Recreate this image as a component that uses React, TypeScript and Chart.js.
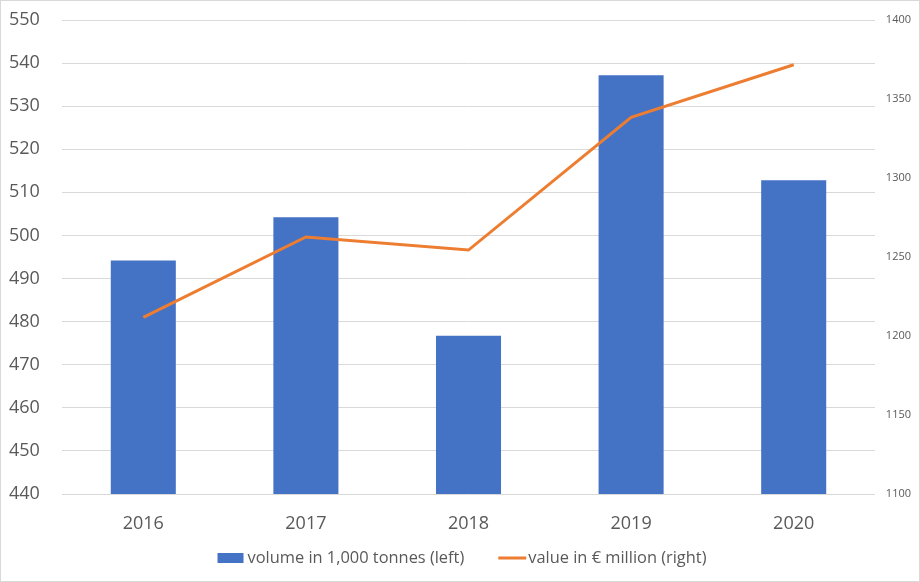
import React, { useEffect, useRef } from "react";
import { Chart, registerables } from "chart.js";

Chart.register(...registerables);

const categories = ["2016", "2017", "2018", "2019", "2020"];
const volumeValues = [494.2, 504.2, 476.7, 537.2, 512.8];
const valueValues = [1211.8, 1262.7, 1254.4, 1338.4, 1371.7];
const volumeLabel = "volume in 1,000 tonnes (left)";
const valueLabel = "value in € million (right)";

const FONT = "'Open Sans', sans-serif";

const legendPlugin = {
  id: "customLegend",
  afterDraw(chart: any) {
    const ctx = chart.ctx as CanvasRenderingContext2D;
    const ds = [...chart.data.datasets].reverse();
    ctx.save();
    ctx.font = `16.4px ${FONT}`;
    ctx.textBaseline = "middle";
    ctx.textAlign = "left";
    const swatch = 26;
    const gap = 4;
    const itemGap = 34;
    const widths = ds.map((d: any) => swatch + gap + ctx.measureText(d.label).width);
    const total = widths.reduce((a: number, b: number) => a + b, 0) + itemGap * (ds.length - 1);
    let x = chart.width / 2 - total / 2 + 2;
    const y = 558;
    ds.forEach((d: any, i: number) => {
      if (d.type === "bar") {
        ctx.fillStyle = d.backgroundColor;
        ctx.fillRect(x, y - 5, swatch, 10);
      } else {
        ctx.strokeStyle = d.borderColor;
        ctx.lineWidth = 3;
        ctx.beginPath();
        ctx.moveTo(x, y);
        ctx.lineTo(x + swatch + 2, y);
        ctx.stroke();
      }
      ctx.fillStyle = "#595959";
      ctx.fillText(d.label, x + swatch + gap, y);
      x += widths[i] + itemGap;
    });
    ctx.restore();
  },
};

export default function App() {
  const ref = useRef<HTMLCanvasElement | null>(null);

  useEffect(() => {
    document.body.style.margin = "0";
    const canvas = ref.current;
    if (!canvas) return;
    const chart = new Chart(canvas, {
      data: {
        labels: categories,
        datasets: [
          {
            type: "line",
            label: valueLabel,
            data: valueValues,
            yAxisID: "y1",
            borderColor: "#ED7D31",
            backgroundColor: "#ED7D31",
            borderWidth: 3,
            pointRadius: 0,
            tension: 0,
            order: 0,
          },
          {
            type: "bar",
            label: volumeLabel,
            data: volumeValues,
            yAxisID: "y",
            backgroundColor: "#4472C4",
            borderColor: "#4472C4",
            borderWidth: 0,
            categoryPercentage: 1,
            barPercentage: 0.4,
            order: 1,
          },
        ],
      },
      plugins: [legendPlugin],
      options: {
        responsive: false,
        animation: false,
        layout: { padding: { top: 20, left: 9, right: 9, bottom: 42 } },
        plugins: {
          tooltip: { enabled: false },
          legend: { display: false },
        },
        scales: {
          x: {
            grid: { display: false },
            border: { display: false },
            ticks: {
              color: "#595959",
              font: { family: FONT, size: 18 },
              padding: 11,
            },
            afterFit: (s: any) => {
              s.height = 46;
            },
          },
          y: {
            position: "left",
            min: 440,
            max: 550,
            ticks: {
              stepSize: 10,
              color: "#595959",
              font: { family: FONT, size: 18 },
              padding: 0,
              crossAlign: "far",
            },
            grid: { color: "#d9d9d9", lineWidth: 1, drawTicks: false },
            border: { display: false },
            afterFit: (s: any) => {
              s.width = 53;
            },
          },
          y1: {
            position: "right",
            min: 1100,
            max: 1400,
            ticks: {
              stepSize: 50,
              color: "#595959",
              font: { family: FONT, size: 11 },
              padding: 0,
              crossAlign: "far",
              callback: (v: any) => String(v),
            },
            grid: { display: false, drawTicks: false },
            border: { display: false },
            afterFit: (s: any) => {
              s.width = 36;
            },
          },
        },
      },
    });
    return () => chart.destroy();
  }, []);

  return (
    <div style={{ position: "relative", width: 920, height: 582 }}>
      <canvas ref={ref} width={920} height={582} style={{ display: "block" }} />
      <div
        style={{
          position: "absolute",
          inset: 0,
          border: "1px solid #d9d9d9",
          pointerEvents: "none",
        }}
      />
    </div>
  );
}
